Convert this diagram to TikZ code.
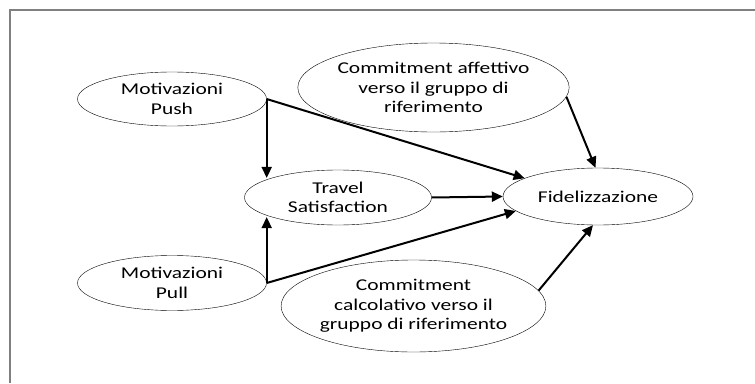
\documentclass[tikz,border=0pt]{standalone}
\usepackage{fontspec}
\setmainfont{Carlito}[FakeStretch=1.3]
\usetikzlibrary{arrows.meta, shapes.geometric}

\tikzset{
    oval/.style={ellipse, draw, thin, inner sep=0pt, align=center,
        font=\fontsize{16.5}{19.5}\selectfont},
    arr/.style={line width=2pt, -{Triangle[length=11pt,width=10pt]}}
}

\begin{document}
\begin{tikzpicture}[x=1pt,y=-1pt]
        \useasboundingbox (0,0) rectangle (755,383);
        \draw[gray, line width=2pt] (10,383) -- (10,10) -- (755,10);
        \node[oval, minimum width=189pt, minimum height=54pt] (push) at (172,99) {Motivazioni\\Push};
        \node[oval, minimum width=189pt, minimum height=55pt] (pull) at (172,283) {Motivazioni\\Pull};
        \node[oval, minimum width=187pt, minimum height=55pt] (travel) at (338,197.5) {Travel\\Satisfaction};
        \node[oval, minimum width=190pt, minimum height=57pt] (fidel) at (598,196.5) {Fidelizzazione};
        \node[oval, minimum width=257pt, minimum height=89pt] (affett) at (433.5,87.5)
            {Commitment affettivo\\verso il gruppo di\\riferimento};
        \node[oval, minimum width=263pt, minimum height=92pt] (calcol) at (413.5,306)
            {Commitment\\calcolativo verso il\\gruppo di riferimento};
        \draw[arr] (push.east) -- (push.east |- travel.north west);
        \draw[arr] (pull.east) -- (pull.east |- travel.south west);
        \draw[arr] (push.east) -- (fidel.166);
        \draw[arr] (pull.east) -- (fidel.190);
        \draw[arr] (travel.east) -- (fidel.west);
        \draw[arr] (affett.-4) -- (fidel.95);
        \draw[arr] (calcol.7) -- (fidel.260);
    \end{tikzpicture}
\end{document}
